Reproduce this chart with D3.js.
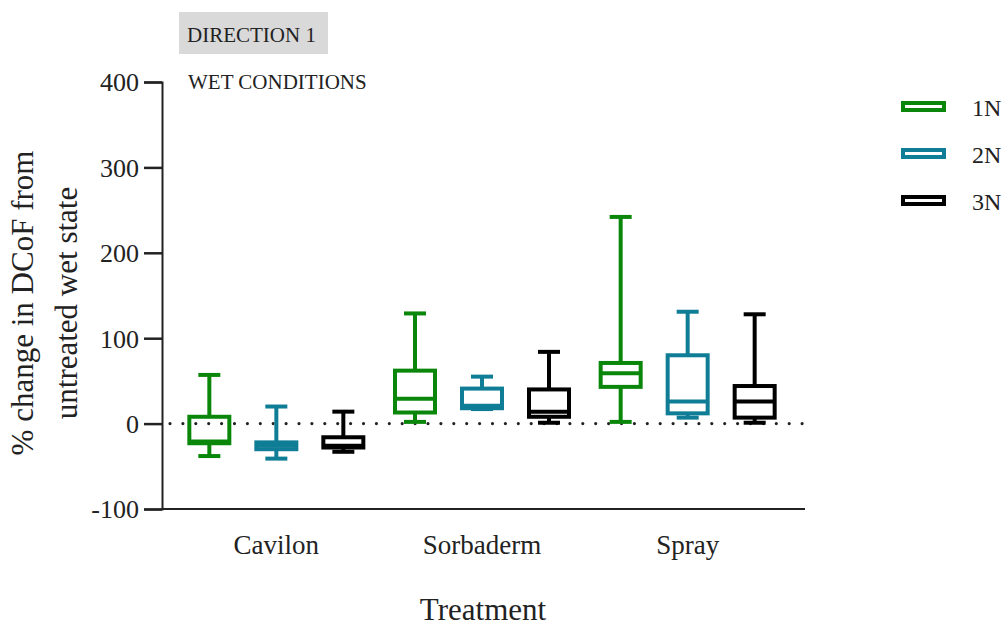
<!DOCTYPE html>
<html><head><meta charset="utf-8">
<script src="https://cdn.jsdelivr.net/npm/d3@7"></script>
<style>body{margin:0;background:#fff}svg{display:block}text{font-family:"Liberation Serif","Times New Roman",serif;fill:#222}</style>
</head><body><svg id="c" width="1008" height="631"></svg>
<script>
const categories = ["Cavilon", "Sorbaderm", "Spray"];
const series = ["1N", "2N", "3N"];
const colors = ["#0a870a", "#0f7d96", "#000000"];
// [whiskerLow, q1, median, q3, whiskerHigh] per series, per category
const s1N = [[-38, -23, -21, 8, 57], [2, 13, 29, 62, 129], [2, 43, 59, 71, 242]];
const s2N = [[-41, -30, -26, -22, 20], [17, 18, 21, 41, 55], [7, 12, 26, 80, 131]];
const s3N = [[-33, -28, -26, -16, 14], [1, 8, 14, 40, 84], [1, 7, 26, 44, 128]];
const yTicks = [-100, 0, 100, 200, 300, 400];
const data = [s1N, s2N, s3N];

const svg = d3.select("#c");
const x0 = 162, x1 = 805;
const y = d3.scaleLinear().domain([-100, 400]).range([509, 82]);
const xc = d3.scaleBand().domain(categories).range([173.5, 790.5]);
const xs = d3.scalePoint().domain(series).range([-67, 67]);

// y axis
const ya = svg.append("g").attr("transform", `translate(${x0},0)`)
  .call(d3.axisLeft(y).tickValues(yTicks).tickSize(18).tickPadding(5).tickFormat(d => String(d)));
ya.select(".domain").attr("stroke", "#222").attr("stroke-width", 2);
ya.selectAll(".tick line").attr("stroke", "#222").attr("stroke-width", 2.5);
ya.selectAll(".tick text").style("font-family", "Liberation Serif").style("font-size", "26px").attr("fill", "#222").attr("dy", "0.34em");

// x axis
const xa = svg.append("g").attr("transform", `translate(0,${y(-100)})`)
  .call(d3.axisBottom(xc).tickSize(0).tickPadding(26));
xa.select(".domain").attr("d", `M${x0},0H${x1}`).attr("stroke", "#222").attr("stroke-width", 2);
xa.selectAll(".tick text").style("font-family", "Liberation Serif").style("font-size", "27px").attr("fill", "#222");

// zero dotted line
svg.append("line").attr("x1", x0 + 8).attr("x2", x1).attr("y1", y(0)).attr("y2", y(0))
  .attr("stroke", "#222").attr("stroke-width", 3.2).attr("stroke-linecap", "round")
  .attr("stroke-dasharray", "0 12.9");

// boxes
const bw = 40, cw = 22;
series.forEach((s, si) => {
  categories.forEach((c, ci) => {
    const [lo, q1, med, q3, hi] = data[si][ci];
    const cx = xc(c) + xc.bandwidth() / 2 + xs(s);
    const g = svg.append("g").attr("stroke", colors[si]).attr("stroke-width", 4).attr("fill", "none");
    g.append("line").attr("x1", cx).attr("x2", cx).attr("y1", y(hi)).attr("y2", y(q3));
    g.append("line").attr("x1", cx).attr("x2", cx).attr("y1", y(q1)).attr("y2", y(lo));
    g.append("line").attr("x1", cx - cw / 2).attr("x2", cx + cw / 2).attr("y1", y(hi)).attr("y2", y(hi));
    g.append("line").attr("x1", cx - cw / 2).attr("x2", cx + cw / 2).attr("y1", y(lo)).attr("y2", y(lo));
    g.append("rect").attr("x", cx - bw / 2).attr("width", bw).attr("y", y(q3)).attr("height", y(q1) - y(q3));
    g.append("line").attr("x1", cx - bw / 2).attr("x2", cx + bw / 2).attr("y1", y(med)).attr("y2", y(med));
  });
});

// titles
svg.append("rect").attr("x", 179).attr("y", 12).attr("width", 149).attr("height", 42).attr("fill", "#d9d9d9");
svg.append("text").attr("x", 187).attr("y", 42).style("font-size", "21px").text("DIRECTION 1");
svg.append("text").attr("x", 188).attr("y", 89).style("font-size", "21px").text("WET CONDITIONS");
svg.append("text").attr("x", 483).attr("y", 620).attr("text-anchor", "middle").style("font-size", "31px").text("Treatment");
const yt = svg.append("g").attr("transform", "translate(0,303) rotate(-90)");
yt.append("text").attr("x", 0).attr("y", 33).attr("text-anchor", "middle").style("font-size", "31px").text("% change in DCoF from");
yt.append("text").attr("x", 0).attr("y", 77).attr("text-anchor", "middle").style("font-size", "31px").text("untreated wet state");

// legend
const lg = svg.append("g");
series.forEach((s, i) => {
  const yy = 106.5 + i * 47;
  lg.append("rect").attr("x", 903).attr("y", yy - 3.5).attr("width", 41).attr("height", 7)
    .attr("fill", "none").attr("stroke", colors[i]).attr("stroke-width", 4);
  lg.append("text").attr("x", 972).attr("y", yy + 9).style("font-size", "24px").text(s);
});
</script></body></html>
